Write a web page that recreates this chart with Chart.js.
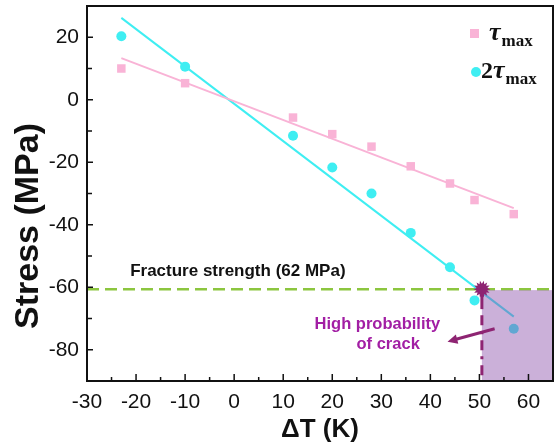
<!DOCTYPE html>
<html>
<head>
<meta charset="utf-8">
<script src="https://cdn.jsdelivr.net/npm/chart.js@4.4.0/dist/chart.umd.min.js"></script>
<style>
  html, body { margin: 0; padding: 0; background: #fff; }
  #wrap { width: 560px; height: 446px; }
</style>
</head>
<body>
<div id="wrap"><canvas id="stressChart"></canvas></div>
<script>
// values
const deltaT = [-23, -10, 12, 20, 28, 36, 44, 49, 57];
const tauMax = [10, 5.3, -5.7, -11, -15, -21.3, -26.8, -32.1, -36.6];
const tau2Max = [20.3, 10.6, -11.5, -21.7, -30, -42.6, -53.6, -64.2, -73.3];

const fitRange = [-23, 57];
const tauMaxFit = [13.3, -34.7];
const tau2MaxFit = [26.2, -69.4];

const fractureStrength = -60.6;
const criticalDT = 50.5;
const arrowFrom = [53.1, -73.3];
const arrowTo = [43.5, -77.4];

const xTicks = [-30, -20, -10, 0, 10, 20, 30, 40, 50, 60];
const yTicks = [-80, -60, -40, -20, 0, 20];

const PINK = '#f9b3d6';
const CYAN = '#3feef2';
const GREEN = '#8cc63f';
const PLUM = '#8e2472';
const MAGENTA = '#a21ea4';

const pts = (xs, ys) => xs.map((x, i) => ({ x, y: ys[i] }));

const overlay = {
  id: 'overlay',
  afterDatasetsDraw(chart) {
    const { ctx, chartArea: a, scales: { x, y } } = chart;
    const px = v => x.getPixelForValue(v);
    const py = v => y.getPixelForValue(v);
    ctx.save();

    // high-probability region
    ctx.fillStyle = 'rgba(140, 80, 170, 0.45)';
    ctx.fillRect(px(criticalDT), py(fractureStrength) + 1, a.right - px(criticalDT), a.bottom - py(fractureStrength) - 1);

    // vertical dash-dot marker
    const cx = px(criticalDT), cy = py(fractureStrength);
    ctx.strokeStyle = PLUM;
    ctx.lineWidth = 3;
    ctx.beginPath();
    ctx.moveTo(cx, cy);
    ctx.lineTo(cx, cy + 20);
    ctx.stroke();
    ctx.setLineDash([10, 6, 3, 6]);
    ctx.beginPath();
    ctx.moveTo(cx, cy + 26);
    ctx.lineTo(cx, a.bottom);
    ctx.stroke();
    ctx.setLineDash([]);

    // burst marker
    ctx.fillStyle = PLUM;
    ctx.beginPath();
    const spikes = 14;
    for (let i = 0; i < spikes * 2; i++) {
      const r = i % 2 ? 5.5 : 8.5;
      const ang = (Math.PI * i) / spikes;
      ctx.lineTo(cx + r * Math.cos(ang), cy + r * Math.sin(ang));
    }
    ctx.closePath();
    ctx.fill();

    // arrow
    const x0 = px(arrowFrom[0]), y0 = py(arrowFrom[1]);
    const x1 = px(arrowTo[0]), y1 = py(arrowTo[1]);
    const ang = Math.atan2(y1 - y0, x1 - x0);
    ctx.strokeStyle = PLUM;
    ctx.lineWidth = 3;
    ctx.beginPath();
    ctx.moveTo(x0, y0);
    ctx.lineTo(x1 - 6 * Math.cos(ang), y1 - 6 * Math.sin(ang));
    ctx.stroke();
    ctx.beginPath();
    ctx.moveTo(x1, y1);
    ctx.lineTo(x1 - 11 * Math.cos(ang - 0.45), y1 - 11 * Math.sin(ang - 0.45));
    ctx.lineTo(x1 - 11 * Math.cos(ang + 0.45), y1 - 11 * Math.sin(ang + 0.45));
    ctx.closePath();
    ctx.fill();

    // texts
    ctx.fillStyle = '#111';
    ctx.font = 'bold 17px "Liberation Sans", Arial, sans-serif';
    ctx.textBaseline = 'middle';
    ctx.textAlign = 'left';
    ctx.fillText('Fracture strength (62 MPa)', px(-21.2), py(-55));

    ctx.fillStyle = MAGENTA;
    ctx.font = 'bold 16.5px "Liberation Sans", Arial, sans-serif';
    ctx.textAlign = 'center';
    ctx.fillText('High probability', px(29.2), py(-72));
    ctx.fillText('of crack', px(31.4), py(-78.4));

    // y axis title, sits a little below the axis centre in the figure
    ctx.save();
    ctx.translate(29, 226);
    ctx.rotate(-Math.PI / 2);
    ctx.fillStyle = '#111';
    ctx.font = 'bold 34px "Liberation Sans", Arial, sans-serif';
    ctx.textAlign = 'center';
    ctx.textBaseline = 'middle';
    ctx.fillText('Stress (MPa)', 0, 0);
    ctx.restore();

    // legend
    const drawLabel = (xStart, base, prefix) => {
      let xx = xStart;
      ctx.fillStyle = '#111';
      ctx.textAlign = 'left';
      ctx.textBaseline = 'alphabetic';
      if (prefix) {
        ctx.font = 'bold 24px "Liberation Serif", "DejaVu Serif", serif';
        ctx.fillText(prefix, xx, base);
        xx += ctx.measureText(prefix).width;
      }
      ctx.font = 'bold italic 26px "Liberation Serif", "DejaVu Serif", serif';
      ctx.fillText('τ', xx, base);
      xx += ctx.measureText('τ').width + 1;
      ctx.font = 'bold 17px "Liberation Serif", "DejaVu Serif", serif';
      ctx.fillText('max', xx, base + 6);
    };
    ctx.fillStyle = PINK;
    ctx.fillRect(470, 29, 9, 9);
    drawLabel(489, 40, '');
    ctx.fillStyle = CYAN;
    ctx.beginPath();
    ctx.arc(476, 72, 5, 0, Math.PI * 2);
    ctx.fill();
    drawLabel(481, 78, '2');

    // frame and inward ticks
    ctx.strokeStyle = '#111';
    ctx.lineWidth = 2;
    ctx.strokeRect(a.left, a.top, a.right - a.left, a.bottom - a.top);
    ctx.lineWidth = 1.5;
    ctx.beginPath();
    for (let v = -30; v <= 65; v += 5) {
      const len = v % 10 === 0 ? 7 : 4;
      const xx = px(v);
      ctx.moveTo(xx, a.bottom);
      ctx.lineTo(xx, a.bottom - len);
    }
    for (let v = -90; v <= 30; v += 10) {
      const len = v % 20 === 0 ? 6 : 5;
      const yy = py(v);
      ctx.moveTo(a.left, yy);
      ctx.lineTo(a.left + len, yy);
    }
    ctx.stroke();
    ctx.restore();
  }
};

new Chart(document.getElementById('stressChart'), {
  type: 'scatter',
  data: {
    datasets: [
      {
        label: 'τmax',
        data: pts(deltaT, tauMax),
        pointStyle: 'rect',
        pointRadius: 6,
        backgroundColor: PINK,
        borderWidth: 0,
      },
      {
        label: '2τmax',
        data: pts(deltaT, tau2Max),
        pointStyle: 'circle',
        pointRadius: 5,
        backgroundColor: CYAN,
        borderWidth: 0,
      },
      {
        label: 'τmax fit',
        data: pts(fitRange, tauMaxFit),
        showLine: true,
        pointRadius: 0,
        borderColor: PINK,
        borderWidth: 2,
      },
      {
        label: '2τmax fit',
        data: pts(fitRange, tau2MaxFit),
        showLine: true,
        pointRadius: 0,
        borderColor: CYAN,
        borderWidth: 2,
      },
      {
        label: 'Fracture strength',
        data: pts([-30, 65], [fractureStrength, fractureStrength]),
        showLine: true,
        pointRadius: 0,
        borderColor: GREEN,
        borderWidth: 2.5,
        borderDash: [12, 6],
      },
    ]
  },
  options: {
    responsive: true,
    maintainAspectRatio: false,
    animation: false,
    layout: { padding: { top: 2, right: 7, left: 0, bottom: 0 } },
    plugins: {
      legend: { display: false },
      tooltip: { enabled: false },
    },
    scales: {
      x: {
        type: 'linear',
        min: -30,
        max: 65,
        afterBuildTicks: s => { s.ticks = xTicks.map(v => ({ value: v })); },
        afterFit: s => { s.height = 65; s.paddingLeft = 0; s.paddingRight = 0; },
        grid: { display: false, drawTicks: false },
        border: { display: false },
        ticks: {
          color: '#111',
          padding: 9,
          font: { family: '"Liberation Sans", Arial, sans-serif', size: 21 },
        },
        title: {
          display: true,
          text: 'ΔT (K)',
          color: '#111',
          padding: { bottom: 1 },
          font: { family: '"Liberation Sans", Arial, sans-serif', size: 26, weight: 'bold' },
        }
      },
      y: {
        type: 'linear',
        min: -90,
        max: 30,
        afterBuildTicks: s => { s.ticks = yTicks.map(v => ({ value: v })); },
        afterFit: s => { s.width = 87; s.paddingTop = 0; s.paddingBottom = 0; },
        grid: { display: false, drawTicks: false },
        border: { display: false },
        ticks: {
          color: '#111',
          padding: 8,
          font: { family: '"Liberation Sans", Arial, sans-serif', size: 21 },
        },
        title: { display: false }
      }
    }
  },
  plugins: [overlay]
});
</script>
</body>
</html>
